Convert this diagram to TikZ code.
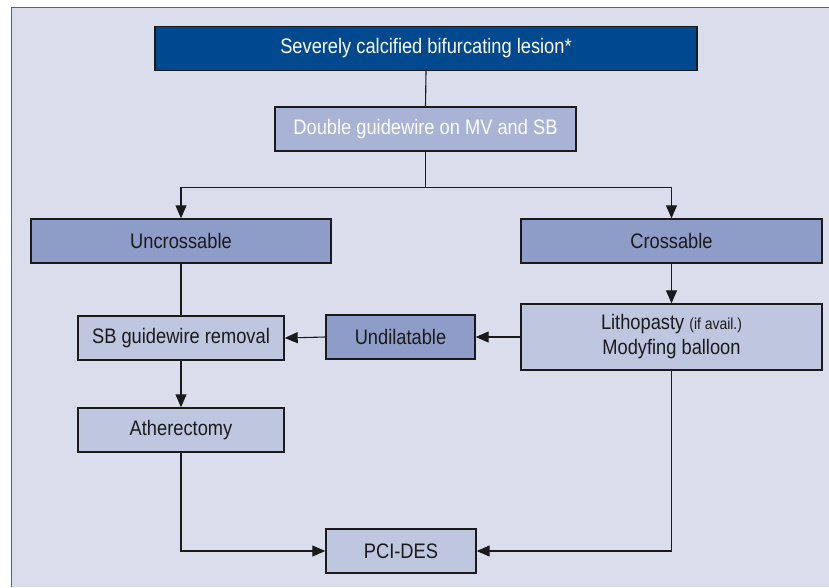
\documentclass[tikz,border=0pt]{standalone}
\usepackage{fontspec}
\setmainfont{Liberation Sans}[FakeStretch=0.87]
\usetikzlibrary{arrows.meta}
\definecolor{panel}{HTML}{DADEEC}
\definecolor{panelline}{HTML}{2E6DB4}
\definecolor{topfill}{HTML}{00498F}
\definecolor{dblfill}{HTML}{A9B3D5}
\definecolor{midfill}{HTML}{8E9DC8}
\definecolor{lightfill}{HTML}{BFC6E0}
\definecolor{ink}{HTML}{1A1A1A}
\tikzset{
  box/.style={draw=ink, line width=1.4pt, inner sep=0pt, minimum height=44pt, align=center, font=\fontsize{21}{25}\selectfont, text=ink},
  topbox/.style={box, fill=topfill, text=white},
  dblbox/.style={box, fill=dblfill, text=white},
  midbox/.style={box, fill=midfill},
  lightbox/.style={box, fill=lightfill},
  conn/.style={draw=ink, line width=1.1pt},
  arr/.style={conn, -{Triangle[length=13pt,width=11pt]}}
}
\begin{document}
\begin{tikzpicture}[x=1pt,y=-1pt]
\useasboundingbox (0,0) rectangle (829,587);
\fill[white] (0,0) rectangle (829,587);
\fill[panel] (11,7) rectangle (829,587);
\draw[panelline, line width=1.5pt] (11.5,587) -- (11.5,7.5) -- (829,7.5);
\node[topbox, minimum width=542pt] (top) at (426,48.5) {Severely calcified bifurcating lesion*};
\node[dblbox, minimum width=301pt] (dbl) at (425.5,129) {Double guidewire on MV and SB};
\node[midbox, minimum width=300pt] (unc) at (181,241) {Uncrossable};
\node[midbox, minimum width=301pt] (cro) at (671.5,241) {Crossable};
\node[lightbox, minimum width=301pt, minimum height=66pt] (lit) at (671.5,337) {Lithopasty {\fontsize{16}{18}\selectfont(if avail.)}\\Modyfing balloon};
\node[midbox, minimum width=149pt] (und) at (400.5,337) {Undilatable};
\node[lightbox, minimum width=206pt] (sb) at (181,338) {SB guidewire removal};
\node[lightbox, minimum width=206pt] (ath) at (181,430) {Atherectomy};
\node[lightbox, minimum width=150pt] (pci) at (401,551) {PCI-DES};
\coordinate (split) at (425.5,187.5);
\draw[conn] (top.south) -- (dbl.north);
\draw[conn] (dbl.south) -- (split);
\draw[arr] (split) -| (unc.north);
\draw[arr] (split) -| (cro.north);
\draw[arr] (cro.south) -- (lit.north);
\draw[arr] (lit.west) -- (und.east);
\draw[arr] (und.west) -- (sb.east);
\draw[conn] (unc.south) -- (sb.north);
\draw[arr] (sb.south) -- (ath.north);
\draw[arr] (ath.south) |- (pci.west);
\draw[arr] (lit.south) |- (pci.east);
\end{tikzpicture}
\end{document}
